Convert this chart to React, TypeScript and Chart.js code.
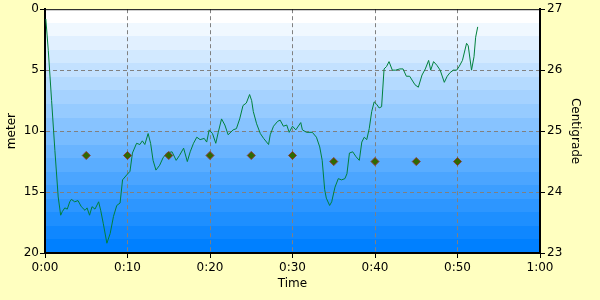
import React, { useEffect, useRef } from "react";
import { Chart, registerables } from "chart.js";

Chart.register(...registerables);

// Depth profile (minutes, meters)
const depthTimes = [
  0.1, 0.4, 0.8, 1.2, 1.6, 1.9, 2.1, 2.4, 2.7, 3.0, 3.2, 3.6, 4.0, 4.4, 4.85, 5.1, 5.4, 5.7, 6.06, 6.5,
  6.75, 7.07, 7.5, 7.9, 8.3, 8.7, 9.1, 9.4, 9.9, 10.3, 10.6, 11.1, 11.5, 11.8, 12.1, 12.5, 12.8, 13.1, 13.45, 13.9,
  14.3, 14.75, 15.4, 15.9, 16.3, 16.8, 17.25, 17.6, 18.0, 18.4, 18.8, 19.3, 19.6, 19.9, 20.3, 20.7, 21.0, 21.4, 21.8, 22.2,
  22.8, 23.2, 23.6, 24.0, 24.4, 24.8, 25.05, 25.25, 25.65, 26.1, 26.5, 27.1, 27.3, 27.7, 28.2, 28.5, 28.9, 29.3, 29.6, 30.0,
  30.4, 31.0, 31.2, 31.7, 32.4, 32.9, 33.3, 33.6, 33.9, 34.1, 34.5, 34.75, 35.15, 35.55, 35.95, 36.35, 36.6, 36.9, 37.3, 37.7,
  38.1, 38.4, 38.7, 39.0, 39.3, 39.6, 39.9, 40.2, 40.5, 40.8, 41.1, 41.4, 41.7, 42.1, 42.5, 43.0, 43.4, 43.8, 44.2, 44.85,
  45.25, 45.7, 46.1, 46.5, 46.75, 47.1, 47.5, 47.9, 48.4, 48.75, 49.1, 49.5, 49.9, 50.2, 50.6, 51.1, 51.3, 51.7, 52.0, 52.2,
  52.45,
];
const depths = [
  0.8, 3.4, 7.5, 11.6, 15.4, 16.9, 16.6, 16.3, 16.4, 15.8, 15.6, 15.8, 15.7, 16.2, 16.5, 16.3, 16.9, 16.2, 16.4, 15.8,
  16.5, 17.6, 19.2, 18.4, 17.0, 16.1, 15.9, 14.0, 13.6, 13.3, 11.8, 11.0, 11.1, 10.8, 11.1, 10.2, 11.0, 12.4, 13.2, 12.8,
  12.2, 11.8, 11.7, 12.4, 12.0, 11.4, 12.5, 11.7, 11.0, 10.5, 10.7, 10.6, 10.9, 9.9, 10.2, 11.0, 10.1, 9.0, 9.5, 10.3,
  9.9, 9.8, 9.0, 7.9, 7.7, 7.0, 7.5, 8.4, 9.4, 10.2, 10.6, 11.1, 10.3, 9.6, 9.2, 9.1, 9.6, 9.5, 10.1, 9.6,
  9.9, 9.3, 9.9, 10.1, 10.1, 10.5, 11.3, 12.4, 14.8, 15.5, 16.1, 15.8, 14.6, 13.9, 14.0, 13.9, 13.5, 11.8, 11.7, 12.1,
  12.4, 10.9, 10.5, 10.7, 9.8, 8.4, 7.6, 7.8, 8.1, 8.0, 4.9, 4.7, 4.3, 5.0, 5.0, 4.9, 4.9, 5.5, 5.5, 6.2,
  6.4, 5.4, 4.9, 4.2, 5.0, 4.3, 4.6, 5.0, 6.0, 5.5, 5.2, 5.0, 5.0, 4.7, 4.2, 2.8, 3.0, 5.0, 3.9, 2.3,
  1.45,
];

// Temperature samples (minutes, centigrade)
const tempTimes = [5, 10, 15, 20, 25, 30, 35, 40, 45, 50];
const temps = [24.6, 24.6, 24.6, 24.6, 24.6, 24.6, 24.5, 24.5, 24.5, 24.5];

const xTicksMin = 0;
const xTicksMax = 60;
const depthMin = 0;
const depthMax = 20;
const tempMin = 23;
const tempMax = 27;

const fmtTime = (v: number) => `${Math.floor(v / 60)}:${String(Math.round(v % 60)).padStart(2, "0")}`;

const bgPlugin = {
  id: "bgPlugin",
  beforeDraw(chart: any) {
    const { ctx, chartArea } = chart;
    ctx.save();
    ctx.fillStyle = "#ffffc0";
    ctx.fillRect(0, 0, chart.width, chart.height);
    const n = 18;
    const h = (chartArea.bottom - chartArea.top) / n;
    for (let i = 0; i < n; i++) {
      const f = i / (n - 1);
      const r = Math.round(255 * (1 - f));
      const g = Math.round(255 - 127 * f);
      ctx.fillStyle = `rgb(${r},${g},255)`;
      const y0 = Math.round(chartArea.top + i * h);
      const y1 = Math.round(chartArea.top + (i + 1) * h);
      ctx.fillRect(chartArea.left, y0, chartArea.right - chartArea.left, y1 - y0);
    }
    ctx.restore();
  },
  afterDraw(chart: any) {
    const { ctx, chartArea } = chart;
    ctx.save();
    ctx.strokeStyle = "#000";
    ctx.lineWidth = 1;
    ctx.beginPath();
    ctx.moveTo(chartArea.left, chartArea.top + 0.5);
    ctx.lineTo(chartArea.right, chartArea.top + 0.5);
    ctx.stroke();
    ctx.restore();
  },
};

export default function App() {
  const ref = useRef<HTMLCanvasElement | null>(null);
  useEffect(() => {
    document.body.style.margin = "0";
    Chart.defaults.font.family = "'DejaVu Sans', sans-serif";
    Chart.defaults.font.size = 12;
    Chart.defaults.color = "#000";
    const gridColor = (edgeA: number, edgeB: number) => (c: any) =>
      c.tick && (c.tick.value === edgeA || c.tick.value === edgeB) ? "rgba(0,0,0,0)" : "#808080";
    const chart = new Chart(ref.current!, {
      type: "line",
      data: {
        datasets: [
          {
            label: "Temperature",
            data: tempTimes.map((t, i) => ({ x: t, y: temps[i] })),
            yAxisID: "y2",
            showLine: false,
            pointStyle: "rectRot",
            pointRadius: 4,
            pointBackgroundColor: "#2f6a00",
            pointBorderColor: "#8b3a3a",
            pointBorderWidth: 1,
            order: 1,
          },
          {
            label: "Depth",
            data: depthTimes.map((t, i) => ({ x: t, y: depths[i] })),
            yAxisID: "y",
            borderColor: "#00803c",
            borderWidth: 1,
            pointRadius: 0,
            tension: 0,
            fill: false,
            order: 2,
          },
        ],
      },
      options: {
        responsive: false,
        animation: false,
        devicePixelRatio: 1,
        layout: { padding: { top: 9, left: 0, right: 0, bottom: 0 } },
        plugins: { legend: { display: false }, tooltip: { enabled: false } },
        scales: {
          x: {
            type: "linear",
            min: xTicksMin,
            max: xTicksMax,
            ticks: { stepSize: 10, callback: (v: any) => fmtTime(Number(v)), padding: 3, maxRotation: 0 },
            grid: {
              color: gridColor(xTicksMin, xTicksMax),
              tickColor: "#000",
              tickBorderDash: [0, 0],
              tickLength: 5,
              lineWidth: 1,
            },
            border: { display: true, color: "#000", width: 2, dash: [4, 3] },
            title: { display: true, text: "Time", padding: { top: 0, bottom: 9 } },
            afterFit: (s: any) => {
              s.height = 47;
            },
          },
          y: {
            type: "linear",
            position: "left",
            reverse: true,
            min: depthMin,
            max: depthMax,
            ticks: { stepSize: 5, padding: 1 },
            grid: {
              color: gridColor(depthMin, depthMax),
              tickColor: "#000",
              tickBorderDash: [0, 0],
              tickLength: 5,
              lineWidth: 1,
            },
            border: { display: true, color: "#000", width: 2, dash: [4, 3] },
            title: { display: true, text: "meter", padding: { top: 5, bottom: 0 } },
            afterFit: (s: any) => {
              s.width = 45;
            },
          },
          y2: {
            type: "linear",
            position: "right",
            min: tempMin,
            max: tempMax,
            ticks: { stepSize: 1, padding: 2 },
            grid: {
              drawOnChartArea: false,
              tickColor: "#000",
              tickLength: 5,
            },
            border: { display: true, color: "#000", width: 2 },
            title: { display: true, text: "Centigrade", padding: { top: 18, bottom: 0 } },
            afterFit: (s: any) => {
              s.width = 60;
            },
          },
        },
      },
      plugins: [bgPlugin],
    } as any);
    return () => chart.destroy();
  }, []);
  return (
    <div style={{ position: "absolute", left: 0, top: 0, width: 600, height: 300 }}>
      <canvas ref={ref} width={600} height={300} />
    </div>
  );
}
